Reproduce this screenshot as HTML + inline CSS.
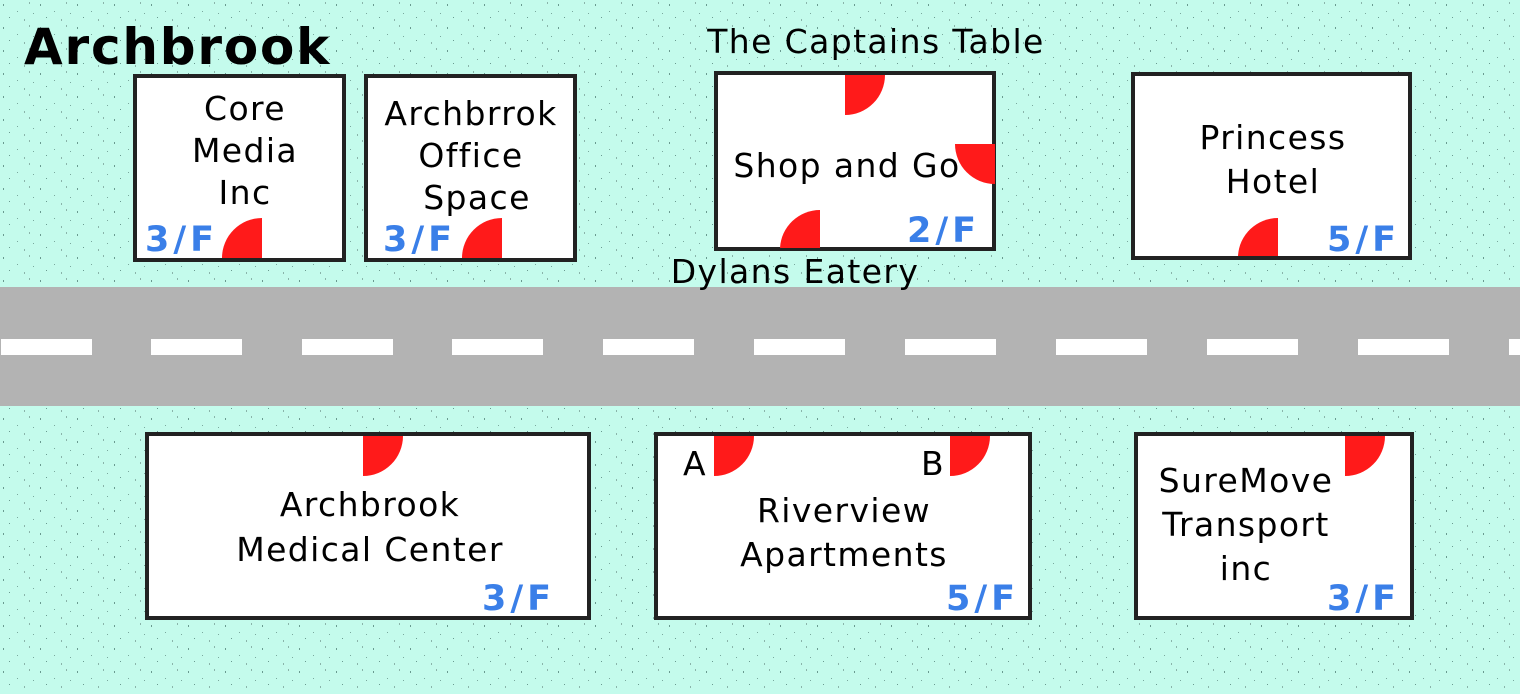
<!DOCTYPE html>
<html><head><meta charset="utf-8"><style>
html,body{margin:0;padding:0}
body{width:1520px;height:689px;overflow:hidden;background:#c4fbec}
text{font-family:"DejaVu Sans","Liberation Sans",sans-serif}
</style></head><body>
<svg width="1520" height="689" viewBox="0 0 1520 689" xmlns="http://www.w3.org/2000/svg">
<defs>
<pattern id="sp" width="37" height="23" patternUnits="userSpaceOnUse">
<rect width="37" height="23" fill="#c4fbec"/>
<rect x="3" y="4" width="1" height="2" fill="#6a9a90"/>
<rect x="17" y="11" width="1" height="1" fill="#7aa89e"/>
<rect x="29" y="2" width="1" height="2" fill="#8ab4aa"/>
<rect x="9" y="17" width="1" height="1" fill="#6a9a90"/>
<rect x="24" y="19" width="1" height="2" fill="#8ab4aa"/>
<rect x="33" y="13" width="1" height="1" fill="#7aa89e"/>
</pattern>
</defs>
<rect width="1520" height="689" fill="url(#sp)"/>
<rect x="0" y="287" width="1520" height="119" fill="#b3b3b3"/>
<g fill="#fff">
<rect x="1" y="339" width="91" height="16"/><rect x="151" y="339" width="91" height="16"/><rect x="302" y="339" width="91" height="16"/><rect x="452" y="339" width="91" height="16"/><rect x="603" y="339" width="91" height="16"/><rect x="754" y="339" width="91" height="16"/><rect x="905" y="339" width="91" height="16"/><rect x="1056" y="339" width="91" height="16"/><rect x="1207" y="339" width="91" height="16"/><rect x="1358" y="339" width="91" height="16"/><rect x="1509" y="339" width="20" height="16"/>
</g>
<g fill="#fff" stroke="#222" stroke-width="4">
<rect x="135" y="76" width="209" height="184"/>
<rect x="366" y="76" width="209" height="184"/>
<rect x="716" y="73" width="278" height="176"/>
<rect x="1133" y="74" width="277" height="184"/>
<rect x="147" y="434" width="442" height="184"/>
<rect x="656" y="434" width="374" height="184"/>
<rect x="1136" y="434" width="276" height="184"/>
</g>
<g fill="#ff1a1a">
<path d="M262 258 L262 218 A40 40 0 0 0 222 258 Z"/>
<path d="M502 258 L502 218 A40 40 0 0 0 462 258 Z"/>
<path d="M845 75 L885 75 A40 40 0 0 1 845 115 Z"/>
<path d="M995 144 L995 184 A40 40 0 0 1 955 144 Z"/>
<path d="M820 248 L820 210 A40 40 0 0 0 780 248 Z"/>
<path d="M1278 256 L1278 218 A40 40 0 0 0 1238 256 Z"/>
<path d="M363 436 L403 436 A40 40 0 0 1 363 476 Z"/>
<path d="M714 436 L754 436 A40 40 0 0 1 714 476 Z"/>
<path d="M950 436 L990 436 A40 40 0 0 1 950 476 Z"/>
<path d="M1345 436 L1385 436 A40 40 0 0 1 1345 476 Z"/>
</g>
<text x="24" y="64" font-size="50" font-weight="bold" fill="#000" letter-spacing="1.8">Archbrook</text>
<g font-size="33" fill="#000" text-anchor="middle" letter-spacing="1.4">
<text x="245" y="120">Core</text><text x="245" y="162">Media</text><text x="245" y="204">Inc</text>
<text x="471" y="125">Archbrrok</text><text x="471" y="167">Office</text><text x="477" y="209">Space</text>
<text x="876" y="53">The Captains Table</text>
<text x="847" y="177">Shop and Go</text>
<text x="795" y="283">Dylans Eatery</text>
<text x="1273" y="149">Princess</text><text x="1273" y="193">Hotel</text>
<text x="370" y="516">Archbrook</text><text x="370" y="561">Medical Center</text>
<text x="844" y="522">Riverview</text><text x="844" y="566">Apartments</text>
<text x="695" y="475">A</text><text x="933" y="475">B</text>
<text x="1246" y="492">SureMove</text><text x="1246" y="536">Transport</text><text x="1246" y="580">inc</text>
</g>
<g font-size="35" font-weight="bold" fill="#3a7fe8" letter-spacing="4">
<text x="145" y="251">3/F</text>
<text x="383" y="251">3/F</text>
<text x="907" y="242">2/F</text>
<text x="1327" y="251">5/F</text>
<text x="482" y="610">3/F</text>
<text x="946" y="610">5/F</text>
<text x="1327" y="610">3/F</text>
</g>
</svg>
</body></html>
